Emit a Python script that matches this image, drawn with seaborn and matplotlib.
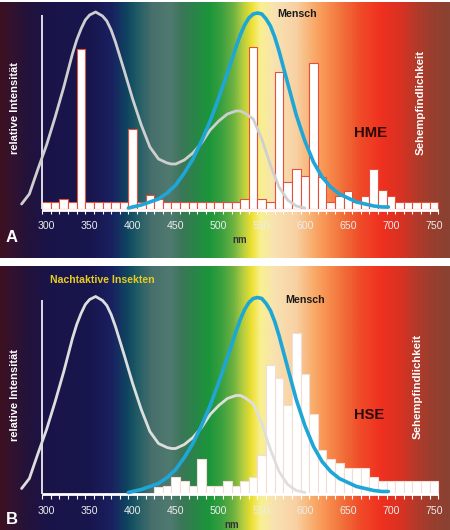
import numpy as np
import pandas as pd
import matplotlib
matplotlib.use("Agg")
import matplotlib.pyplot as plt
import seaborn as sns
from matplotlib.colors import LinearSegmentedColormap

# ---------------- data ----------------
hme_nm = list(range(300, 751, 10))
hme_val = [7, 7, 10, 7, 160, 7, 7, 7, 7, 7,
           80, 7, 14, 10, 7, 7, 7, 7, 7, 7,
           7, 7, 7, 10, 162, 10, 7, 137, 27, 40,
           33, 146, 32, 7, 13, 18, 7, 13, 40, 19,
           13, 7, 7, 7, 7, 7]

hse_nm = list(range(430, 751, 10))
hse_val = [7, 8, 17, 13, 8, 35, 8, 8, 13, 8,
           13, 17, 39, 129, 116, 89, 161, 120, 80, 44,
           35, 31, 26, 26, 26, 17, 13, 13, 13, 13,
           13, 13, 13]

insect_nm = [271, 280, 290, 300, 310, 320, 330, 335, 340, 345, 350, 357,
             365, 370, 375, 380, 390, 400, 410, 420, 430, 440, 445, 450,
             460, 470, 480, 490, 500, 510, 520, 525, 530, 540, 550, 560,
             570, 580, 590, 600]
insect_val = [5, 15, 40, 64, 92, 122, 155, 169, 180, 189, 194, 197,
              193, 188, 179, 167, 139, 110, 84, 62, 50, 46, 45, 45,
              49, 56, 66, 79, 88, 95, 98, 98, 96, 90, 70, 44,
              22, 9, 3, 1]

human_nm = [395, 400, 410, 420, 430, 440, 450, 460, 470, 480, 490, 500,
            510, 520, 525, 530, 535, 540, 545, 550, 555, 560, 565, 570,
            580, 590, 600, 610, 620, 630, 640, 650, 660, 670, 680, 690, 697]
human_val = [1, 2, 4, 7, 10, 16, 24, 36, 50, 68, 88, 111,
             136, 162, 174, 184, 191, 195, 196, 195, 190, 183, 172, 158,
             126, 94, 68, 47, 32, 22, 15, 11, 7, 5, 3, 2, 2]

tick_labels = [300, 350, 400, 450, 500, 550, 600, 650, 700, 750]

# ---------------- style ----------------
sns.set_theme(style="white")
plt.rcParams["font.family"] = ["Liberation Sans", "DejaVu Sans"]

X0, X1 = 245.9, 768.6
spectrum_stops = [
    (246, "#3c1020"), (258, "#34122e"), (275, "#24123a"), (300, "#1a1448"),
    (350, "#18164e"), (375, "#1a2060"), (393, "#0f4560"), (405, "#205c66"),
    (422, "#486f6c"), (443, "#507a70"), (457, "#3c7658"), (475, "#268846"),
    (490, "#1c963a"), (503, "#3aa040"), (516, "#68b040"), (528, "#b0cc40"),
    (538, "#eee030"), (549, "#f8f090"), (565, "#f8e2b2"), (591, "#f8d0a2"),
    (608, "#f8b070"), (626, "#f89050"), (647, "#f06c38"), (666, "#f04a28"),
    (690, "#ef3020"), (713, "#d83222"), (730, "#b43a2a"), (748, "#9a3e2e"),
    (769, "#8a4232"),
]


def spectrum_image():
    pos = [(n - X0) / (X1 - X0) for n, _ in spectrum_stops]
    pos[0], pos[-1] = 0.0, 1.0
    cmap = LinearSegmentedColormap.from_list(
        "spec", list(zip(pos, [c for _, c in spectrum_stops])))
    return cmap(np.linspace(0, 1, 800))[None, :, :]


def draw_panel(ax, bar_nm, bar_val, edge, ylim, axis_top, gray):
    ax.imshow(spectrum_image(), extent=[X0, X1, ylim[0], ylim[1]],
              aspect="auto", interpolation="bilinear", zorder=0)
    bars = pd.DataFrame({"nm": bar_nm, "val": bar_val})
    sns.histplot(data=bars, x="nm", weights="val", binwidth=10,
                 binrange=(bar_nm[0] - 5, bar_nm[-1] + 5), ax=ax,
                 color="white", edgecolor=edge, linewidth=0.8, alpha=1.0,
                 zorder=2)
    # axes drawn in white
    ax.vlines(295, 0, axis_top, color="white", lw=1.2, zorder=3)
    ax.hlines(-0.8, 295, 755, color="white", lw=2.0, zorder=3)
    ax.vlines(np.arange(295, 756, 10), -5, 0, color="white", lw=0.8, zorder=3)
    for t in tick_labels:
        ax.text(t, -17, str(t), color="#ececec", fontsize=7.6,
                ha="center", va="center", zorder=4)
    sns.lineplot(data=pd.DataFrame({"nm": insect_nm, "v": insect_val}),
                 x="nm", y="v", ax=ax, color=gray,
                 linewidth=2.0, zorder=4, solid_joinstyle="round",
                 solid_capstyle="round")
    sns.lineplot(data=pd.DataFrame({"nm": human_nm, "v": human_val}),
                 x="nm", y="v", ax=ax, color="#1ea6d6",
                 linewidth=2.6, zorder=5, solid_joinstyle="round",
                 solid_capstyle="round")
    ax.set_xlim(X0, X1)
    ax.set_ylim(*ylim)
    ax.set_axis_off()


fig = plt.figure(figsize=(4.5, 5.3), dpi=100)
fig.patch.set_facecolor("white")
axA = fig.add_axes([0, 272 / 530, 1, 256 / 530])
axB = fig.add_axes([0, 0, 1, 264 / 530])

# Panel A
draw_panel(axA, hme_nm, hme_val, "#e4503e", (-49, 207), 194, "#cfcfcf")
axA.text(259.8, -28, "A", color="white", fontsize=12, weight="bold",
         ha="center", va="center")
axA.text(263.3, 101, "relative Intensität", color="white", fontsize=8,
         weight="bold", rotation=90, ha="center", va="center")
axA.text(734.9, 107, "Sehempfindlichkeit", color="white", fontsize=8.2,
         weight="bold", rotation=90, ha="center", va="center")
axA.text(590.9, 195, "Mensch", color="#1a1a1a", fontsize=7.7,
         weight="bold", ha="center", va="center", zorder=6)
axA.text(676.8, 76, "HME", color="#2a0808", fontsize=10.7,
         weight="bold", ha="center", va="center")
axA.text(524.7, -31, "nm", color="#333333", fontsize=7,
         weight="bold", ha="center", va="center")

# Panel B
draw_panel(axB, hse_nm, hse_val, "#f2dcd4", (-36.5, 227.5), 193.5, "#dedede")
axB.text(259.5, -25.5, "B", color="white", fontsize=12, weight="bold",
         ha="center", va="center")
axB.text(263.3, 98.5, "relative Intensität", color="white", fontsize=8,
         weight="bold", rotation=90, ha="center", va="center")
axB.text(731.4, 107.5, "Sehempfindlichkeit", color="white", fontsize=8.2,
         weight="bold", rotation=90, ha="center", va="center")
axB.text(600.2, 193.5, "Mensch", color="#1a1a1a", fontsize=7.7,
         weight="bold", ha="center", va="center", zorder=6)
axB.text(674.5, 78.5, "HSE", color="#2a0808", fontsize=10.5,
         weight="bold", ha="center", va="center")
axB.text(364.4, 213.5, "Nachtaktive Insekten", color="#e8cc20",
         fontsize=7.6, weight="bold", ha="center", va="center")
axB.text(515.4, -31.5, "nm", color="#333333", fontsize=7,
         weight="bold", ha="center", va="center")

fig.savefig("out.png", dpi=100)
